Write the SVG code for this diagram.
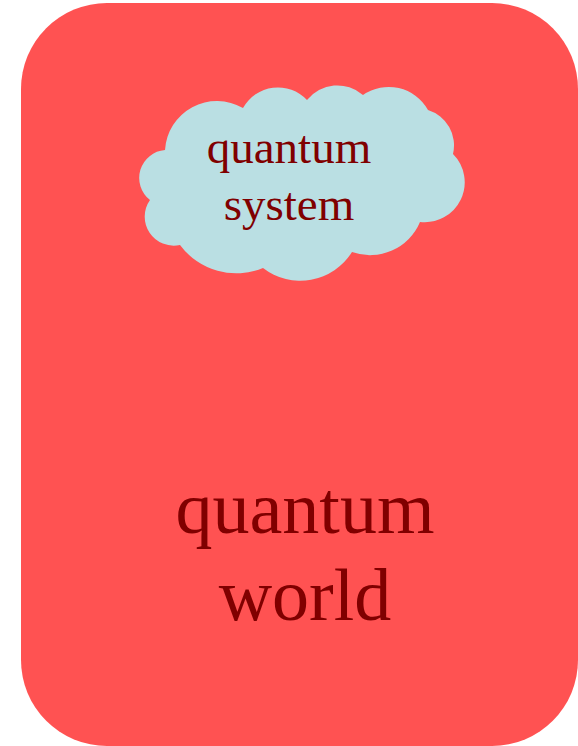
<svg xmlns="http://www.w3.org/2000/svg" width="578" height="746" viewBox="0 0 578 746">
<style>
.t{font-family:"Liberation Serif","Times New Roman",serif;fill:#800000;text-anchor:middle}
</style>
<g id="world">
<rect x="21" y="3" width="557" height="743" rx="86" ry="86" fill="#FF5252"/>
<text class="t" x="305" y="533" font-size="74">quantum</text>
<text class="t" x="305" y="620" font-size="74">world</text>
</g>
<g id="system">
<path d="M150,200 A28,28 0 0 1 165,150 A52,52 0 0 1 243,108 A40,40 0 0 1 307,100 A39,39 0 0 1 363,95 A45,45 0 0 1 428,110 A37,37 0 0 1 453,154 A40,40 0 0 1 420,222 A54,54 0 0 1 352,252 A61,61 0 0 1 263,268 A70,70 0 0 1 180,245 A29,29 0 0 1 150,200 Z" fill="#BADFE3"/>
<text class="t" x="289" y="163" font-size="47">quantum</text>
<text class="t" x="289" y="220" font-size="47">system</text>
</g>
<g id="connectors"/>
</svg>
